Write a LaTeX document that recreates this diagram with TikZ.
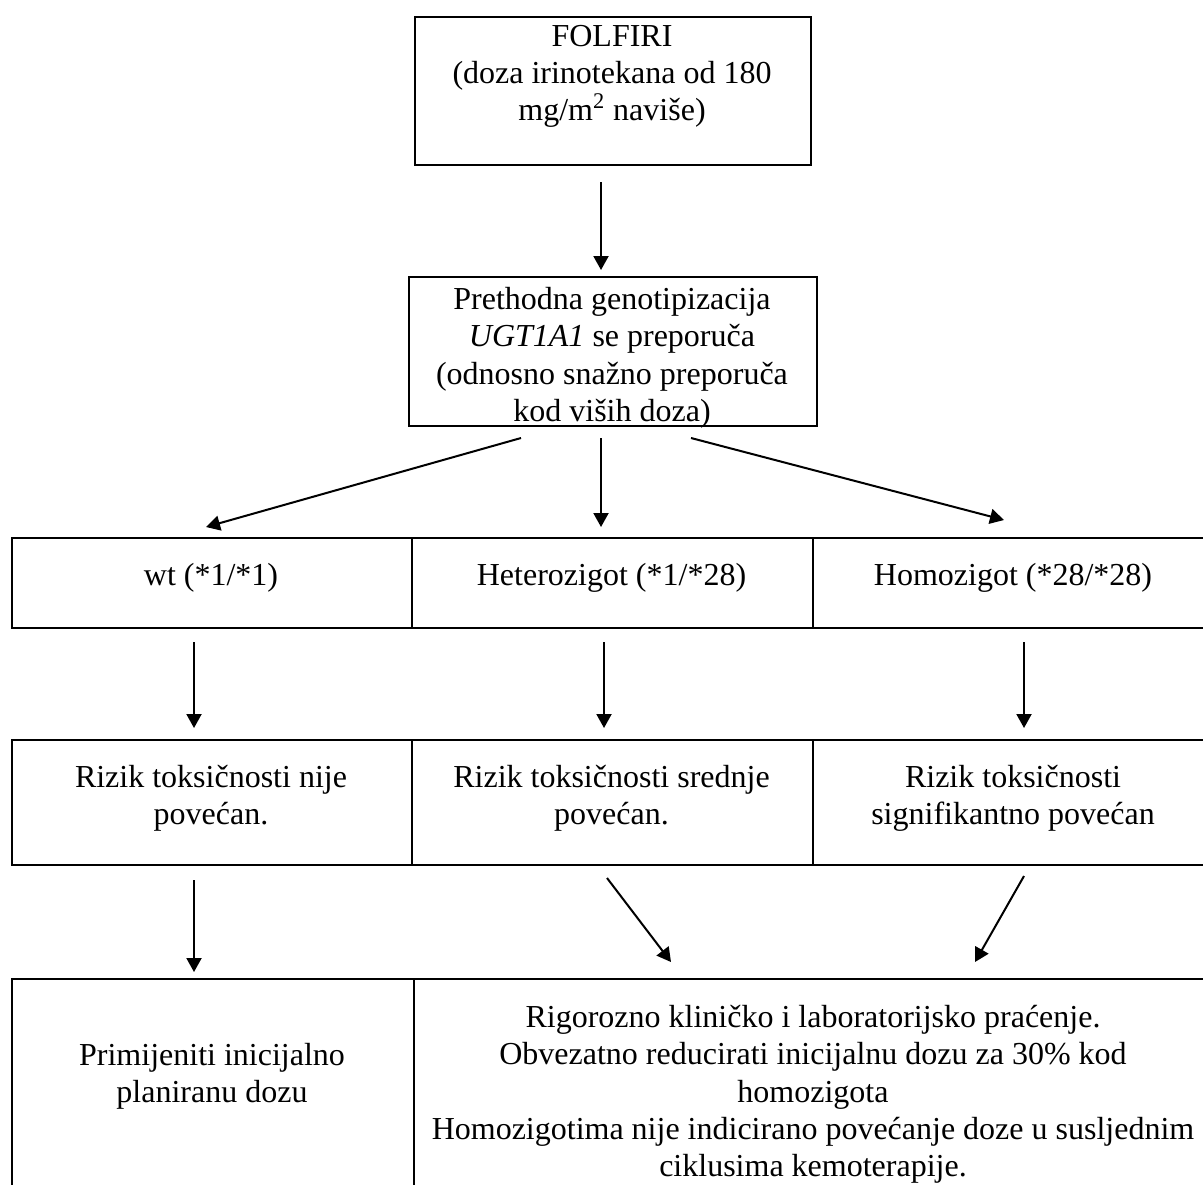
\documentclass[tikz,border=0pt]{standalone}
\usepackage{fontspec}
\setmainfont{Liberation Serif}
\usetikzlibrary{arrows.meta}
\begin{document}
\begin{tikzpicture}[x=0.5pt,y=-0.5pt,
  box/.style={draw=black, line width=1pt, inner sep=0pt, anchor=north west},
  txt/.style={inner sep=0pt, align=center, font=\fontsize{16}{18.6}\selectfont},
  arr/.style={line width=1pt, -{Triangle[length=7pt,width=7.5pt]}}]
\useasboundingbox (0,0) rectangle (1203,1184);
% boxes
\node[box, minimum width=198pt, minimum height=74pt] (a) at (414,16) {};
\node[box, minimum width=204pt, minimum height=74.5pt] (b) at (408,276) {};
\node[box, minimum width=200pt, minimum height=45pt] (c1) at (11,537) {};
\node[box, minimum width=200.5pt, minimum height=45pt] (c2) at (411,537) {};
\node[box, minimum width=201pt, minimum height=45pt] (c3) at (812,537) {};
\node[box, minimum width=200pt, minimum height=62.5pt] (d1) at (11,739) {};
\node[box, minimum width=200.5pt, minimum height=62.5pt] (d2) at (411,739) {};
\node[box, minimum width=201pt, minimum height=62.5pt] (d3) at (812,739) {};
\node[box, minimum width=201pt, minimum height=110pt] (e1) at (11,978) {};
\node[box, minimum width=400.5pt, minimum height=110pt] (e2) at (413,978) {};
% texts
\node[txt, anchor=north] (a-t) at (612,25) {FOLFIRI\\(doza irinotekana od 180\\mg/m\textsuperscript{2} naviše)};
\node[txt, anchor=north] (b-t) at (612,287) {Prethodna genotipizacija\\\textit{UGT1A1} se preporuča\\(odnosno snažno preporuča\\kod viših doza)};
\node[txt] (c1-t) at (211,578) {wt (*1/*1)};
\node[txt] (c2-t) at (611.5,578) {Heterozigot (*1/*28)};
\node[txt] (c3-t) at (1013,578) {Homozigot (*28/*28)};
\node[txt, anchor=north] (d1-t) at (211,765) {Rizik toksičnosti nije\\povećan.};
\node[txt, anchor=north] (d2-t) at (611.5,765) {Rizik toksičnosti srednje\\povećan.};
\node[txt, anchor=north] (d3-t) at (1013,765) {Rizik toksičnosti\\signifikantno povećan};
\node[txt, anchor=north] (e1-t) at (212,1043) {Primijeniti inicijalno\\planiranu dozu};
\node[txt, anchor=north] (e2-t) at (813,1005) {Rigorozno kliničko i laboratorijsko praćenje.\\Obvezatno reducirati inicijalnu dozu za 30\% kod\\homozigota\\Homozigotima nije indicirano povećanje doze u susljednim\\ciklusima kemoterapije.};
% arrows
\draw[arr] ([xshift=-6pt,yshift=-8pt]a.south) -- ([xshift=-6pt,yshift=3pt]b.north);
\draw[arr] ([xshift=-46pt,yshift=-5.5pt]b.south) -- ([xshift=-3pt,yshift=5pt]c1.north);
\draw[arr] ([xshift=-6pt,yshift=-5.5pt]b.south) -- ([xshift=-5.75pt,yshift=5pt]c2.north);
\draw[arr] ([xshift=39pt,yshift=-5.5pt]b.south) -- ([xshift=-5pt,yshift=8.5pt]c3.north);
\draw[arr] ([xshift=-9pt,yshift=-6.5pt]c1.south) -- ([xshift=-9pt,yshift=5.5pt]d1.north);
\draw[arr] ([xshift=-4.25pt,yshift=-6.5pt]c2.south) -- ([xshift=-4.25pt,yshift=5.5pt]d2.north);
\draw[arr] ([xshift=5pt,yshift=-6.5pt]c3.south) -- ([xshift=5pt,yshift=5.5pt]d3.north);
\draw[arr] ([xshift=-9pt,yshift=-7pt]d1.south) -- ([xshift=-9.5pt,yshift=3pt]e1.north);
\draw[arr] ([xshift=-2.75pt,yshift=-6pt]d2.south) -- ([xshift=-71.75pt,yshift=8pt]e2.north);
\draw[arr] ([xshift=5pt,yshift=-5pt]d3.south) -- ([xshift=80.25pt,yshift=8pt]e2.north);
\end{tikzpicture}
\end{document}
